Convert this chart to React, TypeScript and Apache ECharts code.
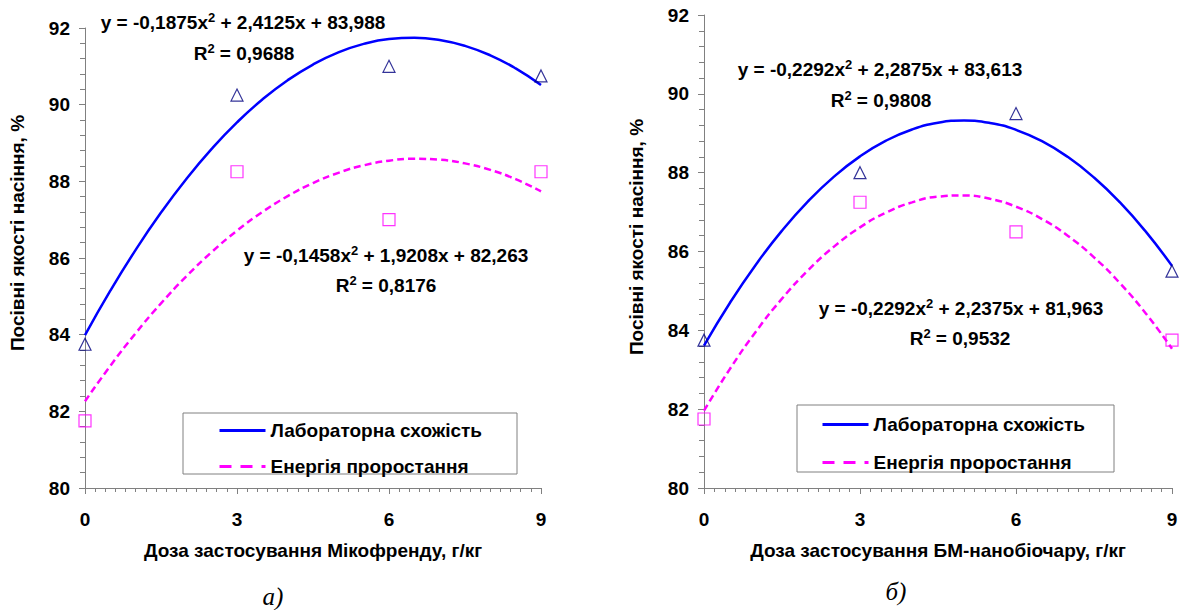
import React, { useEffect, useRef } from "react";
import * as echarts from "echarts";

// ---- data ----
const doses = [0, 3, 6, 9];
const labA = [83.75, 90.25, 91.0, 90.75];
const energyA = [81.75, 88.25, 87.0, 88.25];
const labB = [83.75, 88.0, 89.5, 85.5];
const energyB = [81.75, 87.25, 86.5, 83.75];

// trend-line values tabulated every half dose
const trendX = [0, 0.5, 1, 1.5, 2, 2.5, 3, 3.5, 4, 4.5, 5, 5.5, 6, 6.5, 7, 7.5, 8, 8.5, 9];
const trendLabA = [
  83.988, 85.147, 86.213, 87.185, 88.063, 88.847, 89.538, 90.135, 90.638, 91.047,
  91.363, 91.585, 91.713, 91.747, 91.688, 91.535, 91.288, 90.947, 90.513,
];
const trendEnergyA = [
  82.263, 83.187, 84.038, 84.816, 85.521, 86.154, 86.713, 87.2, 87.613, 87.954,
  88.222, 88.417, 88.539, 88.588, 88.564, 88.468, 88.298, 88.056, 87.74,
];
const trendLabB = [
  83.613, 84.7, 85.671, 86.529, 87.271, 87.899, 88.413, 88.812, 89.096, 89.266,
  89.321, 89.261, 89.087, 88.798, 88.395, 87.877, 87.244, 86.497, 85.635,
];
const trendEnergyB = [
  81.963, 83.024, 83.971, 84.804, 85.521, 86.124, 86.613, 86.987, 87.246, 87.391,
  87.421, 87.336, 87.137, 86.823, 86.395, 85.852, 85.194, 84.422, 83.535,
];

const seriesNames = ["Лабораторна схожість", "Енергія проростання"];
const xNames = ["Доза застосування Мікофренду, г/кг", "Доза застосування БМ-нанобіочару, г/кг"];
const yName = "Посівні якості насіння, %";
const captions = ["а)", "б)"];
// equations: [before superscript, after superscript, R² value]
const eqLabA = ["y = -0,1875x", " + 2,4125x + 83,988", "0,9688"];
const eqEnergyA = ["y = -0,1458x", " + 1,9208x + 82,263", "0,8176"];
const eqLabB = ["y = -0,2292x", " + 2,2875x + 83,613", "0,9808"];
const eqEnergyB = ["y = -0,2292x", " + 2,2375x + 81,963", "0,9532"];

const FONT = '"Liberation Sans", Arial, sans-serif';
const FS = 19;
const BLUE = "#0000ff";
const MAGENTA = "#ff00ff";
const NAVY = "#000080";
const AXIS = "#808080";

const pairs = (xs: number[], ys: number[]) => xs.map((x, i) => [x, ys[i]]);

const rich = {
  n: { fontSize: FS, fontWeight: "bold", fontFamily: FONT, fill: "#000", lineHeight: 22 },
  s: { fontSize: 13, fontWeight: "bold", fontFamily: FONT, fill: "#000", verticalAlign: "top", lineHeight: 14 },
};

function eqText(eq: string[], x: number, y: number, rx: number, ry: number) {
  return [
    {
      type: "text",
      x,
      y,
      style: {
        text: `{n|${eq[0]}}{s|2}{n|${eq[1]}}`,
        rich,
        align: "center",
        verticalAlign: "middle",
      },
    },
    {
      type: "text",
      x: rx,
      y: ry,
      style: {
        text: `{n|R}{s|2}{n| = ${eq[2]}}`,
        rich,
        align: "center",
        verticalAlign: "middle",
      },
    },
  ];
}

function xAxis(gridIndex: number, name: string) {
  return {
    type: "value",
    gridIndex,
    min: 0,
    max: 9,
    interval: 3,
    axisLine: { show: true, lineStyle: { color: AXIS, width: 1 } },
    axisTick: { show: true, length: 6, lineStyle: { color: AXIS } },
    minorTick: { show: true, splitNumber: 15, length: 4, lineStyle: { color: AXIS } },
    splitLine: { show: false },
    minorSplitLine: { show: false },
    axisLabel: { margin: 22, color: "#000", fontSize: FS, fontWeight: "bold", fontFamily: FONT },
    name,
    nameLocation: "middle",
    nameGap: 53,
    nameTextStyle: { color: "#000", fontSize: FS, fontWeight: "bold", fontFamily: FONT },
  };
}

function yAxis(gridIndex: number) {
  return {
    type: "value",
    gridIndex,
    min: 80,
    max: 92,
    interval: 2,
    axisLine: { show: true, lineStyle: { color: AXIS, width: 1 } },
    axisTick: { show: true, length: 6, lineStyle: { color: AXIS } },
    minorTick: { show: true, splitNumber: 5, length: 5, lineStyle: { color: AXIS } },
    splitLine: { show: false },
    minorSplitLine: { show: false },
    axisLabel: { margin: 15, color: "#000", fontSize: FS, fontWeight: "bold", fontFamily: FONT },
  };
}

function chartSeries(idx: number, lab: number[], energy: number[], tLab: number[], tEnergy: number[]) {
  return [
    {
      name: seriesNames[0],
      type: "line",
      xAxisIndex: idx,
      yAxisIndex: idx,
      data: pairs(trendX, tLab),
      smooth: true,
      symbol: "none",
      lineStyle: { color: BLUE, width: 2.5 },
      itemStyle: { color: BLUE },
      z: 2,
    },
    {
      name: seriesNames[1],
      type: "line",
      xAxisIndex: idx,
      yAxisIndex: idx,
      data: pairs(trendX, tEnergy),
      smooth: true,
      symbol: "none",
      lineStyle: { color: MAGENTA, width: 2.5, type: [7, 4] },
      itemStyle: { color: MAGENTA },
      z: 2,
    },
    {
      name: "lab-points-" + idx,
      type: "scatter",
      xAxisIndex: idx,
      yAxisIndex: idx,
      data: pairs(doses, lab),
      symbol: "triangle",
      symbolSize: 12,
      itemStyle: { color: "rgba(0,0,0,0)", borderColor: NAVY, borderWidth: 1.2 },
      z: 3,
    },
    {
      name: "energy-points-" + idx,
      type: "scatter",
      xAxisIndex: idx,
      yAxisIndex: idx,
      data: pairs(doses, energy),
      symbol: "rect",
      symbolSize: 12,
      itemStyle: { color: "rgba(0,0,0,0)", borderColor: MAGENTA, borderWidth: 1.2 },
      z: 3,
    },
  ];
}

function legend(left: number, top: number, gap: number) {
  return {
    orient: "vertical",
    left,
    top,
    padding: 0,
    itemGap: gap,
    itemWidth: 46,
    itemHeight: 14,
    selectedMode: false,
    itemStyle: { opacity: 0 },
    data: [
      { name: seriesNames[0], lineStyle: { color: BLUE, width: 3, type: "solid" } },
      { name: seriesNames[1], lineStyle: { color: MAGENTA, width: 3, type: [12, 9] } },
    ],
    textStyle: { color: "#000", fontSize: FS, fontWeight: "bold", fontFamily: FONT, lineHeight: 14 },
  };
}

function vText(text: string, x: number, y: number) {
  return {
    type: "text",
    x,
    y,
    rotation: Math.PI / 2,
    style: {
      text,
      fill: "#000",
      fontSize: FS,
      fontWeight: "bold",
      fontFamily: FONT,
      align: "center",
      verticalAlign: "middle",
    },
  };
}

function caption(text: string, x: number, y: number) {
  return {
    type: "text",
    x,
    y,
    style: {
      text,
      fill: "#000",
      fontSize: 25,
      fontStyle: "italic",
      fontFamily: '"Liberation Serif", "Times New Roman", serif',
      align: "center",
      verticalAlign: "middle",
    },
  };
}

export default function App() {
  const ref = useRef<HTMLDivElement>(null);

  useEffect(() => {
    document.body.style.margin = "0";
    if (!ref.current) return;
    const chart = echarts.init(ref.current, undefined, { renderer: "svg" });
    const option = {
      animation: false,
      backgroundColor: "#fff",
      grid: [
        { left: 85, top: 28, width: 456, height: 460 },
        { left: 704, top: 15, width: 468, height: 473 },
      ],
      xAxis: [xAxis(0, xNames[0]), xAxis(1, xNames[1])],
      yAxis: [yAxis(0), yAxis(1)],
      legend: [legend(218, 421, 17), legend(821, 415, 19)],
      series: [
        ...chartSeries(0, labA, energyA, trendLabA, trendEnergyA),
        ...chartSeries(1, labB, energyB, trendLabB, trendEnergyB),
      ],
      graphic: [
        {
          type: "rect",
          shape: { x: 183, y: 413, width: 334, height: 61 },
          style: { fill: "rgba(255,255,255,0)", stroke: AXIS, lineWidth: 1 },
          z: 1,
        },
        {
          type: "rect",
          shape: { x: 797, y: 405, width: 317, height: 67 },
          style: { fill: "rgba(255,255,255,0)", stroke: AXIS, lineWidth: 1 },
          z: 1,
        },
        ...eqText(eqLabA, 243, 22, 244, 53),
        ...eqText(eqEnergyA, 386, 255, 386, 285),
        ...eqText(eqLabB, 880, 69, 881, 100),
        ...eqText(eqEnergyB, 961, 308, 960, 338),
        vText(yName, 17, 233),
        vText(yName, 636, 237),
        caption(captions[0], 273, 596),
        caption(captions[1], 896, 591),
      ],
    };
    chart.setOption(option as any);
    return () => chart.dispose();
  }, []);

  return <div ref={ref} style={{ width: 1185, height: 610 }} />;
}
